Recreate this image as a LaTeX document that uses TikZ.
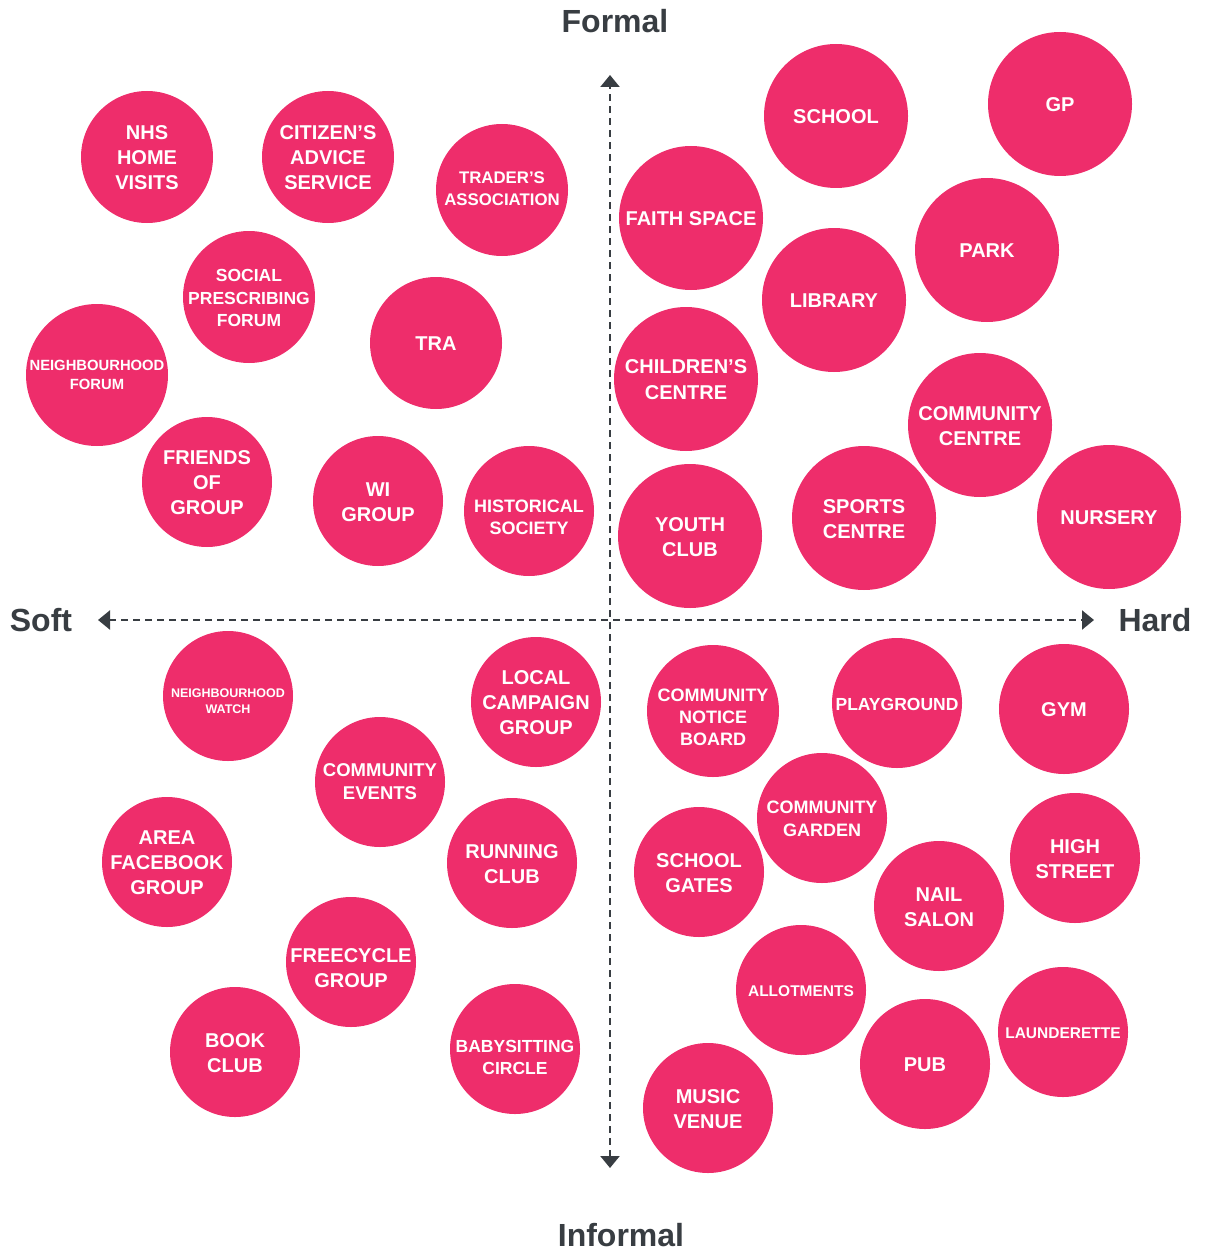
\documentclass[tikz,border=0pt]{standalone}
\usepackage{fontspec}
\setmainfont{Liberation Sans}
\usetikzlibrary{arrows.meta}
\definecolor{bubblepink}{HTML}{EE2D6B}
\definecolor{axisgrey}{HTML}{383D42}
\tikzset{
  bubble/.style={circle, fill=bubblepink, draw=none, minimum size=#1, inner sep=0pt},
  btxtl/.style 2 args={text=white, align=center, inner sep=0pt, yshift=-1pt, font=\bfseries\fontsize{#1}{#2}\selectfont},
  axisline/.style={draw=axisgrey, line width=2.2pt, dash pattern=on 7pt off 5pt,
    {Triangle[width=19pt,length=12pt]}-{Triangle[width=19pt,length=12pt]}},
  axislabel/.style={text=axisgrey, inner sep=0pt, font=\bfseries\fontsize{32}{38}\selectfont}
}
\begin{document}
\begin{tikzpicture}[x=1pt,y=-1pt]
\useasboundingbox (0,0) rectangle (1208,1252);

% axes
\coordinate (top) at (610,75);
\coordinate (bot) at (610,1168);
\coordinate (lft) at (98,620);
\coordinate (rgt) at (1094,620);
\draw[axisline] (bot) -- (top);
\draw[axisline] (lft) -- (rgt);
\node[axislabel] (formal) at (615,21) {Formal};
\node[axislabel] (informal) at (621,1235) {Informal};
\node[axislabel] (soft) at (41,620) {Soft};
\node[axislabel] (hard) at (1155,620) {Hard};

% top-left
\node[bubble=132] (nhs) at (147,157) {};
\node[btxtl={20}{25}] (nhsT) at (nhs) {NHS\\HOME\\VISITS};
\node[bubble=132] (cab) at (328,157) {};
\node[btxtl={20}{25}] (cabT) at (cab) {CITIZEN’S\\ADVICE\\SERVICE};
\node[bubble=132] (trader) at (502,190) {};
\node[btxtl={16.8}{22}] (traderT) at (502,188) {TRADER’S\\ASSOCIATION};
\node[bubble=132] (social) at (249,297) {};
\node[btxtl={17.5}{22.5}] (socialT) at (social) {SOCIAL\\PRESCRIBING\\FORUM};
\node[bubble=142] (nforum) at (97,375) {};
\node[btxtl={14.8}{19}] (nforumT) at (97,374) {NEIGHBOURHOOD\\FORUM};
\node[bubble=132] (tra) at (436,343) {};
\node[btxtl={20}{25}] (traT) at (tra) {TRA};
\node[bubble=130] (friends) at (207,482) {};
\node[btxtl={20}{25}] (friendsT) at (friends) {FRIENDS\\OF\\GROUP};
\node[bubble=130] (wi) at (378,501) {};
\node[btxtl={20}{25}] (wiT) at (wi) {WI\\GROUP};
\node[bubble=130] (hist) at (529,511) {};
\node[btxtl={18}{22}] (histT) at (529,516) {HISTORICAL\\SOCIETY};

% top-right
\node[bubble=144] (school) at (836,116) {};
\node[btxtl={20}{25}] (schoolT) at (school) {SCHOOL};
\node[bubble=144] (gp) at (1060,104) {};
\node[btxtl={20}{25}] (gpT) at (gp) {GP};
\node[bubble=144] (faith) at (691,218) {};
\node[btxtl={20}{25}] (faithT) at (faith) {FAITH SPACE};
\node[bubble=144] (park) at (987,250) {};
\node[btxtl={20}{25}] (parkT) at (park) {PARK};
\node[bubble=144] (library) at (834,300) {};
\node[btxtl={20}{25}] (libraryT) at (library) {LIBRARY};
\node[bubble=144] (children) at (686,379) {};
\node[btxtl={20}{26}] (childrenT) at (children) {CHILDREN’S\\CENTRE};
\node[bubble=144] (ccentre) at (980,425) {};
\node[btxtl={20}{25}] (ccentreT) at (ccentre) {COMMUNITY\\CENTRE};
\node[bubble=144] (sports) at (864,518) {};
\node[btxtl={20}{25}] (sportsT) at (sports) {SPORTS\\CENTRE};
\node[bubble=144] (nursery) at (1109,517) {};
\node[btxtl={20}{25}] (nurseryT) at (nursery) {NURSERY};
\node[bubble=144] (youth) at (690,536) {};
\node[btxtl={20}{25}] (youthT) at (youth) {YOUTH\\CLUB};

% bottom-left
\node[bubble=130] (nwatch) at (228,696) {};
\node[btxtl={12.5}{16}] (nwatchT) at (228,700) {NEIGHBOURHOOD\\WATCH};
\node[bubble=130] (local) at (536,702) {};
\node[btxtl={20}{25}] (localT) at (local) {LOCAL\\CAMPAIGN\\GROUP};
\node[bubble=130] (cevents) at (380,782) {};
\node[btxtl={18.5}{23}] (ceventsT) at (380,781) {COMMUNITY\\EVENTS};
\node[bubble=130] (facebook) at (167,862) {};
\node[btxtl={20}{25}] (facebookT) at (facebook) {AREA\\FACEBOOK\\GROUP};
\node[bubble=130] (running) at (512,863) {};
\node[btxtl={20}{25}] (runningT) at (running) {RUNNING\\CLUB};
\node[bubble=130] (freecycle) at (351,962) {};
\node[btxtl={20}{25}] (freecycleT) at (351,967) {FREECYCLE\\GROUP};
\node[bubble=130] (book) at (235,1052) {};
\node[btxtl={20}{25}] (bookT) at (book) {BOOK\\CLUB};
\node[bubble=130] (baby) at (515,1049) {};
\node[btxtl={17.5}{22}] (babyT) at (515,1056) {BABYSITTING\\CIRCLE};

% bottom-right
\node[bubble=132] (notice) at (713,711) {};
\node[btxtl={18}{22}] (noticeT) at (713,716) {COMMUNITY\\NOTICE\\BOARD};
\node[bubble=130] (playground) at (897,703) {};
\node[btxtl={17.5}{22}] (playgroundT) at (playground) {PLAYGROUND};
\node[bubble=130] (gym) at (1064,709) {};
\node[btxtl={20}{25}] (gymT) at (gym) {GYM};
\node[bubble=130] (cgarden) at (822,818) {};
\node[btxtl={18}{23}] (cgardenT) at (cgarden) {COMMUNITY\\GARDEN};
\node[bubble=130] (sgates) at (699,872) {};
\node[btxtl={20}{25}] (sgatesT) at (sgates) {SCHOOL\\GATES};
\node[bubble=130] (high) at (1075,858) {};
\node[btxtl={20}{25}] (highT) at (high) {HIGH\\STREET};
\node[bubble=130] (nail) at (939,906) {};
\node[btxtl={20}{25}] (nailT) at (nail) {NAIL\\SALON};
\node[bubble=130] (allot) at (801,990) {};
\node[btxtl={15.5}{20}] (allotT) at (allot) {ALLOTMENTS};
\node[bubble=130] (laund) at (1063,1032) {};
\node[btxtl={15.5}{20}] (laundT) at (laund) {LAUNDERETTE};
\node[bubble=130] (pub) at (925,1064) {};
\node[btxtl={20}{25}] (pubT) at (pub) {PUB};
\node[bubble=130] (music) at (708,1108) {};
\node[btxtl={20}{25}] (musicT) at (music) {MUSIC\\VENUE};
\end{tikzpicture}
\end{document}
